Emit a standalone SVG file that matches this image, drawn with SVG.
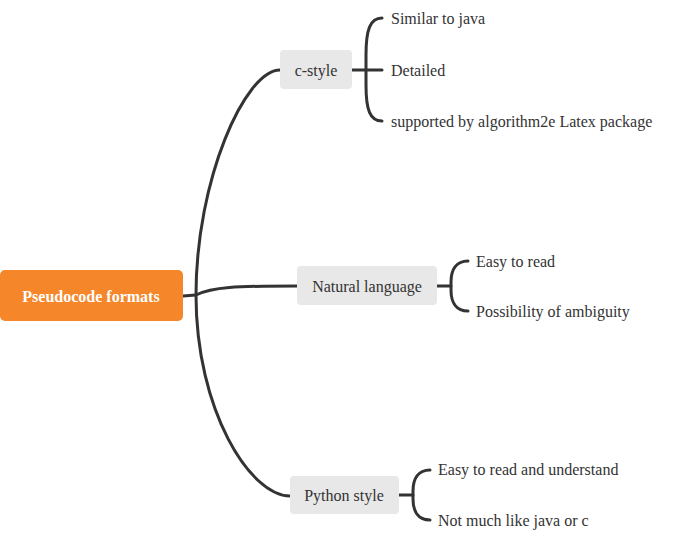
<svg xmlns="http://www.w3.org/2000/svg" width="687" height="548" viewBox="0 0 687 548">
<style>
text{font-family:"Liberation Serif","Times New Roman",serif;font-size:16px;fill:#333;dominant-baseline:central}
.root rect{fill:#F5862A}
.root text{fill:#fff;font-weight:bold;text-anchor:middle}
.node rect{fill:#E8E8E8}
.node text{text-anchor:middle}
.conn path{fill:none;stroke:#333;stroke-width:3;stroke-linecap:round}
</style>
<rect width="687" height="548" fill="#fff"/>
<g class="conn" id="connectors">
<path d="M183,296 L196,295"/>
<path d="M196,295 C196,180 245,70 280,70"/>
<path d="M196,295 C212,287 235,286 298,286"/>
<path d="M196,295 C196,410 250,496 290,496"/>
<path d="M352,70 L382,70"/>
<path d="M382,18 C370,18 366,30 366,55 L366,85 C366,110 370,121 382,121"/>
<path d="M437,286 L451,286"/>
<path d="M468,261 C456,261 451,270 451,282 L451,290 C451,302 456,311 468,311"/>
<path d="M399,495 L413,495"/>
<path d="M430,470 C418,470 413,479 413,491 L413,499 C413,511 418,520 430,520"/>
</g>
<g id="root" class="root">
<rect x="0" y="270" width="183" height="51" rx="5"/>
<text x="91" y="296">Pseudocode formats</text>
</g>
<g id="c-style" class="node">
<rect x="280" y="50" width="72" height="39" rx="4"/>
<text x="316" y="70">c-style</text>
</g>
<g id="natural" class="node">
<rect x="297" y="266" width="140" height="39" rx="4"/>
<text x="367" y="286">Natural language</text>
</g>
<g id="python" class="node">
<rect x="290" y="476" width="109" height="38" rx="4"/>
<text x="344" y="495">Python style</text>
</g>
<g id="leaf-c1"><text x="391" y="18">Similar to java</text></g>
<g id="leaf-c2"><text x="391" y="70">Detailed</text></g>
<g id="leaf-c3"><text x="391" y="121">supported by algorithm2e Latex package</text></g>
<g id="leaf-n1"><text x="476" y="261">Easy to read</text></g>
<g id="leaf-n2"><text x="476" y="311">Possibility of ambiguity</text></g>
<g id="leaf-p1"><text x="438" y="469">Easy to read and understand</text></g>
<g id="leaf-p2"><text x="438" y="520">Not much like java or c</text></g>
</svg>
